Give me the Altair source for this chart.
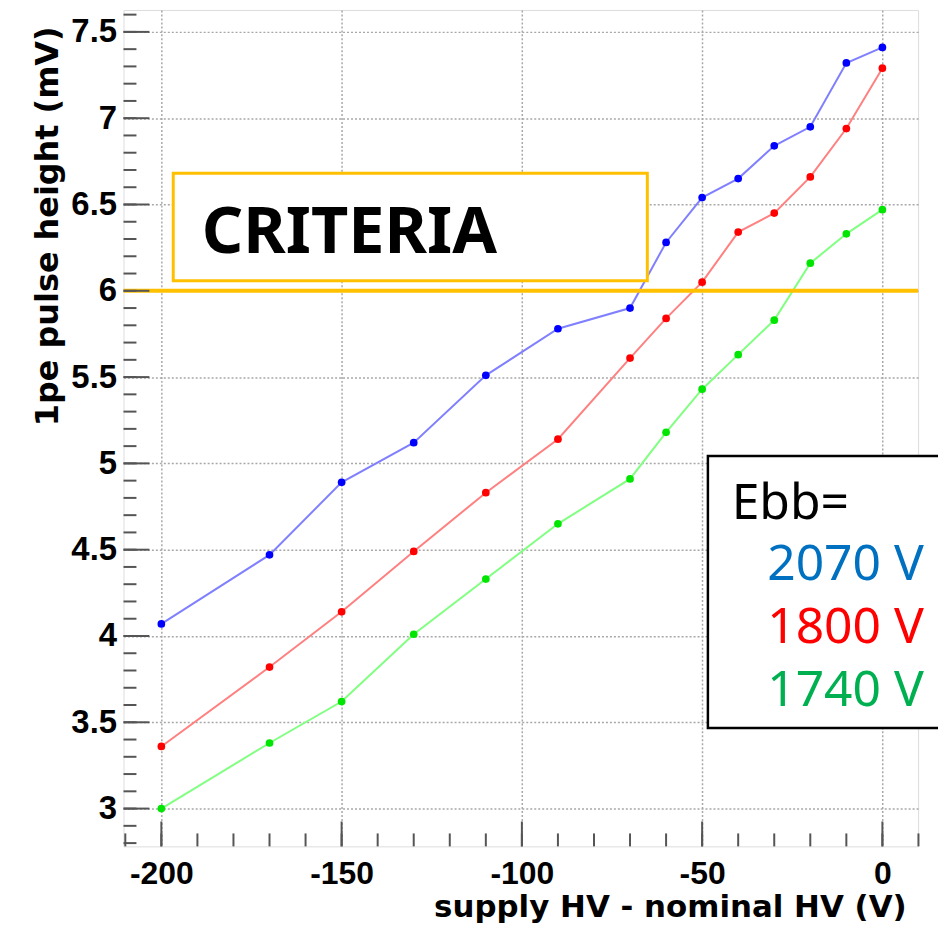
import altair as alt
import pandas as pd

# ---- data ----
hv_offset = [-200, -170, -150, -130, -110, -90, -70, -60, -50, -40, -30, -20, -10, 0]
ph_2070 = [4.07, 4.47, 4.89, 5.12, 5.51, 5.78, 5.90, 6.28, 6.54, 6.65, 6.84, 6.95, 7.32, 7.41]
ph_1800 = [3.36, 3.82, 4.14, 4.49, 4.83, 5.14, 5.61, 5.84, 6.05, 6.34, 6.45, 6.66, 6.94, 7.29]
ph_1740 = [3.00, 3.38, 3.62, 4.01, 4.33, 4.65, 4.91, 5.18, 5.43, 5.63, 5.83, 6.16, 6.33, 6.47]

series_names = ["2070 V", "1800 V", "1740 V"]
point_colors = ["#0000ff", "#ff0000", "#00e600"]
line_colors = ["#8080ff", "#ff8080", "#80ff80"]
legend_colors = ["#0070c0", "#ff0000", "#00b050"]

x_major = [-200, -150, -100, -50, 0]
x_minor = [-210, -200, -190, -180, -170, -160, -150, -140, -130, -120, -110, -100,
           -90, -80, -70, -60, -50, -40, -30, -20, -10, 0, 10]
y_major = [3.0, 3.5, 4.0, 4.5, 5.0, 5.5, 6.0, 6.5, 7.0, 7.5]
y_minor = [2.8, 2.9, 3.0, 3.1, 3.2, 3.3, 3.4, 3.5, 3.6, 3.7, 3.8, 3.9, 4.0, 4.1, 4.2,
           4.3, 4.4, 4.5, 4.6, 4.7, 4.8, 4.9, 5.0, 5.1, 5.2, 5.3, 5.4, 5.5, 5.6, 5.7,
           5.8, 5.9, 6.0, 6.1, 6.2, 6.3, 6.4, 6.5, 6.6, 6.7, 6.8, 6.9, 7.0, 7.1, 7.2,
           7.3, 7.4, 7.5, 7.6]

criteria_level = [6.0]
criteria_box = {"x": [-196.7], "x2": [-65.2], "y": [6.058], "y2": [6.681]}
criteria_label = {"text": ["CRITERIA"], "x": [-188.8], "y": [6.221]}

legend_box = {"x": [-48.4], "x2": [16.0], "y": [3.467], "y2": [5.043]}
legend_head = {"text": ["Ebb="], "x": [-41.8], "y": [4.679]}
legend_items_x = [11.5, 11.5, 11.5]
legend_items_y = [4.327, 3.962, 3.596]

x_domain = [-210.5, 9.9]
y_domain = [2.781, 7.627]

W, H = 798, 840

# ---- tables ----
rows = []
for name, vals, pc, lc in zip(series_names, [ph_2070, ph_1800, ph_1740], point_colors, line_colors):
    for xv, yv in zip(hv_offset, vals):
        rows.append({"series": name, "x": xv, "y": yv, "pcolor": pc, "lcolor": lc})
df = pd.DataFrame(rows)

xs = alt.Scale(domain=x_domain, nice=False, zero=False)
ys = alt.Scale(domain=y_domain, nice=False, zero=False)

xaxis = alt.Axis(
    values=x_major, labelExpr="'' + datum.value", ticks=False, tickSize=0, domain=False,
    grid=True, gridColor="#a8a8a8", gridDash=[2, 2], gridWidth=1.5,
    labelFont="Liberation Sans", labelFontWeight="bold", labelFontSize=32, labelColor="#000",
    labelPadding=12, labelBaseline="top",
    title="supply HV - nominal HV (V)", titleFont="DejaVu Sans", titleFontWeight="bold",
    titleFontSize=31, titleColor="#000", titleX=786, titleY=70, titleAlign="right",
    titleBaseline="alphabetic",
)
yaxis = alt.Axis(
    values=y_major, labelExpr="'' + datum.value", ticks=False, tickSize=0, domain=False,
    grid=True, gridColor="#a8a8a8", gridDash=[2, 2], gridWidth=1.5,
    labelFont="Liberation Sans", labelFontWeight="bold", labelFontSize=33, labelColor="#000",
    labelPadding=7,
    title="1pe pulse height (mV)", titleFont="DejaVu Sans", titleFontWeight="bold",
    titleFontSize=32, titleColor="#000", titleX=-66, titleY=16, titleAlign="right",
    titleBaseline="alphabetic", titleAngle=270,
)

lines = alt.Chart(df).mark_line(strokeWidth=2).encode(
    x=alt.X("x:Q", scale=xs, axis=xaxis),
    y=alt.Y("y:Q", scale=ys, axis=yaxis),
    color=alt.Color("lcolor:N", scale=None),
    detail="series:N",
)
points = alt.Chart(df).mark_point(filled=True, size=60, opacity=1).encode(
    x=alt.X("x:Q", scale=xs), y=alt.Y("y:Q", scale=ys),
    color=alt.Color("pcolor:N", scale=None),
)

cbox = alt.Chart(pd.DataFrame(criteria_box)).mark_rect(
    fill="white", stroke="#ffc000", strokeWidth=3
).encode(x=alt.X("x:Q", scale=xs), x2="x2:Q", y=alt.Y("y:Q", scale=ys), y2="y2:Q")

cline = alt.Chart(pd.DataFrame({"y": criteria_level})).mark_rule(
    color="#ffc000", strokeWidth=4
).encode(y=alt.Y("y:Q", scale=ys), x=alt.value(0), x2=alt.value(W))

ctext = alt.Chart(pd.DataFrame(criteria_label)).mark_text(
    align="left", baseline="alphabetic", font="Noto Sans", fontWeight="bold",
    fontSize=65, color="#000"
).encode(x=alt.X("x:Q", scale=xs), y=alt.Y("y:Q", scale=ys), text="text:N")

# inward ROOT-style ticks
ytick_major = alt.Chart(pd.DataFrame({"v": y_major})).mark_rule(color="#555", strokeWidth=2).encode(
    y=alt.Y("v:Q", scale=ys), x=alt.value(0), x2=alt.value(26))
ytick_minor = alt.Chart(pd.DataFrame({"v": y_minor})).mark_rule(color="#555", strokeWidth=2).encode(
    y=alt.Y("v:Q", scale=ys), x=alt.value(0), x2=alt.value(13))
xtick_major = alt.Chart(pd.DataFrame({"v": x_major})).mark_rule(color="#555", strokeWidth=2).encode(
    x=alt.X("v:Q", scale=xs), y=alt.value(H), y2=alt.value(H - 25))
xtick_minor = alt.Chart(pd.DataFrame({"v": x_minor})).mark_rule(color="#555", strokeWidth=2).encode(
    x=alt.X("v:Q", scale=xs), y=alt.value(H), y2=alt.value(H - 13))

lbox = alt.Chart(pd.DataFrame(legend_box)).mark_rect(
    fill="white", stroke="#000", strokeWidth=2.5
).encode(x=alt.X("x:Q", scale=xs), x2="x2:Q", y=alt.Y("y:Q", scale=ys), y2="y2:Q")

lhead = alt.Chart(pd.DataFrame(legend_head)).mark_text(
    align="left", baseline="alphabetic", font="Noto Sans", fontSize=50, color="#000"
).encode(x=alt.X("x:Q", scale=xs), y=alt.Y("y:Q", scale=ys), text="text:N")

litems = alt.Chart(pd.DataFrame({
    "text": series_names, "x": legend_items_x, "y": legend_items_y, "c": legend_colors
})).mark_text(
    align="right", baseline="alphabetic", font="Noto Sans", fontSize=50
).encode(x=alt.X("x:Q", scale=xs), y=alt.Y("y:Q", scale=ys), text="text:N",
         color=alt.Color("c:N", scale=None))

chart = alt.layer(
    lines, cbox, ctext, cline, points,
    ytick_major, ytick_minor, xtick_major, xtick_minor,
    lbox, lhead, litems,
).properties(
    width=W, height=H,
    autosize=alt.AutoSizeParams(type="none"),
    padding={"left": 116, "top": 0, "right": 20, "bottom": 82},
).configure_view(
    stroke="#808080", strokeWidth=2
).configure(background="white")

chart.save("out.html", embed_options={"renderer": "svg", "actions": False})
